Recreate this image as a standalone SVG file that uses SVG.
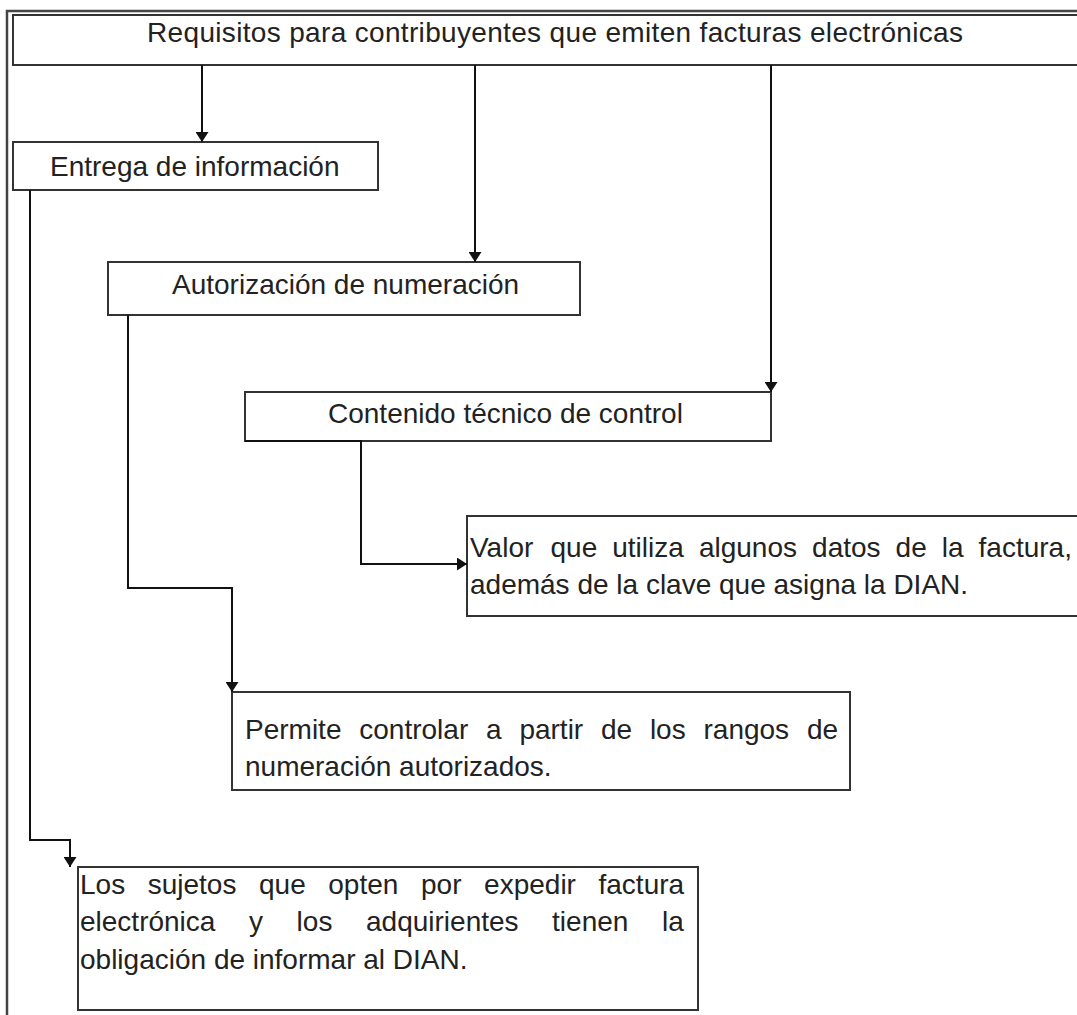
<svg xmlns="http://www.w3.org/2000/svg" width="1077" height="1015" viewBox="0 0 1077 1015">
<defs>
<style>
.box{fill:#fff;stroke:#333;stroke-width:2}
.frame{fill:none;stroke:#444;stroke-width:2.5}
.con{fill:none;stroke:#111;stroke-width:2}
.t{font-family:"Liberation Sans",Arial,sans-serif;font-size:28px;fill:#222}
</style>
<marker id="arr" viewBox="0 0 10 10" refX="10" refY="5" markerWidth="10" markerHeight="13" markerUnits="userSpaceOnUse" orient="auto" preserveAspectRatio="none">
<path d="M0,0 L10,5 L0,10 z" fill="#111"/>
</marker>
</defs>
<rect width="1077" height="1015" fill="#fff"/>
<path class="frame" d="M7,1015 V11 H1077"/>

<g id="node-requisitos">
<path class="box" d="M1080,15 H13 V65 H1080"/>
<text class="t" x="147" y="42" textLength="816" lengthAdjust="spacing">Requisitos para contribuyentes que emiten facturas electrónicas</text>
</g>

<g id="node-entrega">
<rect class="box" x="13" y="142" width="365" height="48"/>
<text class="t" x="50" y="176">Entrega de información</text>
</g>

<g id="node-autorizacion">
<rect class="box" x="108" y="262" width="472" height="53"/>
<text class="t" x="172" y="294">Autorización de numeración</text>
</g>

<g id="node-contenido">
<rect class="box" x="245" y="392" width="526" height="49"/>
<text class="t" x="328" y="423">Contenido técnico de control</text>
</g>

<g id="node-valor">
<path class="box" d="M1080,516 H467 V616 H1080"/>
<text class="t" y="557"><tspan x="470">Valor</tspan> <tspan x="550.5">que</tspan> <tspan x="612.2">utiliza</tspan> <tspan x="698.9">algunos</tspan> <tspan x="812.1">datos</tspan> <tspan x="895.6">de</tspan> <tspan x="941.8">la</tspan> <tspan x="978.6">factura,</tspan></text>
<text class="t" x="470" y="594">además de la clave que asigna la DIAN.</text>
</g>

<g id="node-permite">
<rect class="box" x="232" y="692" width="618" height="98"/>
<text class="t" y="739"><tspan x="245">Permite</tspan> <tspan x="359.3">controlar</tspan> <tspan x="486">a</tspan> <tspan x="519.4">partir</tspan> <tspan x="601">de</tspan> <tspan x="649.9">los</tspan> <tspan x="703.5">rangos</tspan> <tspan x="806.9">de</tspan></text>
<text class="t" x="245" y="776">numeración autorizados.</text>
</g>

<g id="node-sujetos">
<rect class="box" x="78" y="867" width="620" height="143"/>
<text class="t" y="894"><tspan x="80">Los</tspan> <tspan x="147.7">sujetos</tspan> <tspan x="259">que</tspan> <tspan x="328.3">opten</tspan> <tspan x="421">por</tspan> <tspan x="484.1">expedir</tspan> <tspan x="598.5">factura</tspan></text>
<text class="t" y="931"><tspan x="80">electrónica</tspan> <tspan x="249">y</tspan> <tspan x="296.6">los</tspan> <tspan x="366">adquirientes</tspan> <tspan x="552.1">tienen</tspan> <tspan x="662">la</tspan></text>
<text class="t" x="80" y="969">obligación de informar al DIAN.</text>
</g>

<g id="connectors">
<path class="con" d="M202,65 V142" marker-end="url(#arr)"/>
<path class="con" d="M475,65 V262" marker-end="url(#arr)"/>
<path class="con" d="M771,65 V392" marker-end="url(#arr)"/>
<path class="con" d="M30,190 V840 H70 V867" marker-end="url(#arr)"/>
<path class="con" d="M128,315 V588 H232 V692" marker-end="url(#arr)"/>
<path class="con" d="M245,441 H361 V564 H467" marker-end="url(#arr)"/>
</g>
</svg>
